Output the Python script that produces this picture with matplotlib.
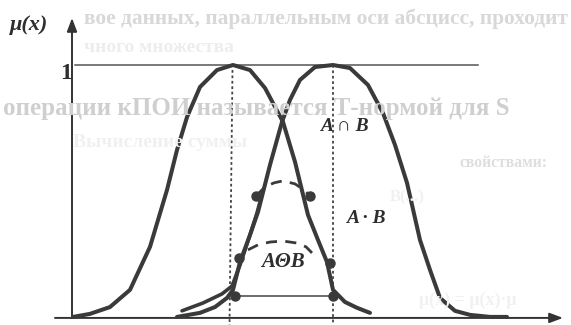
import matplotlib
matplotlib.use('Agg')
import matplotlib.pyplot as plt

SERIF = ['Liberation Serif', 'DejaVu Serif']
INK = '#3a3a3a'

# membership curve A (left bell)
a_x = [0.02, 0.36, 0.76, 1.16, 1.56, 1.90, 2.10, 2.30, 2.56, 2.90, 3.22,
       3.56, 3.86, 4.22, 4.46, 4.72, 4.92, 5.10, 5.22, 5.46, 5.70, 5.96]
a_mu = [0.004, 0.016, 0.043, 0.111, 0.281, 0.506, 0.664, 0.794, 0.913, 0.980, 1.0,
        0.980, 0.909, 0.775, 0.617, 0.407, 0.308, 0.221, 0.111, 0.063, 0.040, 0.020]

# membership curve B (right bell)
b_x = [2.10, 2.56, 2.86, 3.10, 3.22, 3.36, 3.56, 3.72, 3.96, 4.20, 4.36, 4.56, 4.86,
       5.22, 5.56, 5.92, 6.22, 6.46, 6.70, 6.96, 7.16, 7.36, 7.66, 7.96, 8.36, 8.70]
b_mu = [0.004, 0.020, 0.043, 0.079, 0.111, 0.221, 0.328, 0.419, 0.605, 0.775, 0.862, 0.941, 0.992,
        1.0, 0.988, 0.921, 0.810, 0.684, 0.534, 0.308, 0.190, 0.079, 0.028, 0.012, 0.004, 0.004]

# lower branch of the product curve along the left leg
p_x = [2.20, 2.62, 3.00, 3.20, 3.36, 3.54, 3.70, 3.78]
p_mu = [0.028, 0.059, 0.095, 0.126, 0.209, 0.316, 0.415, 0.474]

# dashed arcs: A*B (upper) and A(-)B (lower)
prod_x = [3.68, 3.86, 4.04, 4.22, 4.46, 4.64, 4.76]
prod_mu = [0.482, 0.518, 0.534, 0.542, 0.530, 0.506, 0.482]
diff_x = [3.52, 3.72, 3.96, 4.22, 4.50, 4.68, 4.80]
diff_mu = [0.269, 0.289, 0.300, 0.304, 0.296, 0.281, 0.257]

# marked points on the legs
dot_x = [3.68, 4.76, 3.34, 5.16, 3.26, 5.22]
dot_mu = [0.482, 0.482, 0.237, 0.217, 0.087, 0.087]

# bottom chord and peak positions
chord_x = [3.30, 5.22]
chord_mu = 0.087
peak_a, peak_b = 3.21, 5.22

# text printed on the back of the page: (text, left px, centre px, width px, grey, max size)
ghost_lines = [
    ('вое данных, параллельным оси абсцисс, проходит', 84, 19, 482, '#d8d8d8', 16),
    ('чного множества', 84, 47, 190, '#ededed', 14),
    ('операции кПОИ называется Т-нормой для S', 3, 108, 563, '#cfcfcf', 18),
    ('Вычисление суммы', 73, 143, 270, '#f0f0f0', 14),
    ('свойствами:', 460, 163, 88, '#dedede', 14),
    ('B(...)', 390, 197, 47, '#f0f0f0', 12),
    ('μ(x) = μ(x)·μ', 419, 300, 127, '#f1f1f1', 13),
]

W, H = 571, 325
fig = plt.figure(figsize=(W / 100, H / 100), dpi=100)
ax = fig.add_axes([0, 0, 1, 1])
ax.set_xlim(-1.44, 9.98)
ax.set_ylim(-0.028, 1.257)
ax.axis('off')

renderer = fig.canvas.get_renderer()
for txt, left, mid, width, grey, cap in ghost_lines:
    t = fig.text(left / W, 1 - mid / H, txt, family=SERIF, weight='bold',
                 ha='left', va='center', color=grey, fontsize=12, zorder=0)
    # stretch the font so the line covers its width
    w = t.get_window_extent(renderer).width
    t.set_fontsize(min(12 * width / w, cap))

# axes with arrows
arrow = dict(arrowstyle='-|>,head_length=0.8,head_width=0.3',
             color='#333333', lw=1.4, shrinkA=0, shrinkB=0)
ax.annotate('', xy=(0, 1.186), xytext=(0, 0), arrowprops=arrow, zorder=3)
ax.annotate('', xy=(9.82, 0), xytext=(-0.34, 0), arrowprops=arrow, zorder=3)
ax.plot([0.06, 8.12], [1.0, 1.0], color='#555555', lw=1.1, zorder=2)

# dotted verticals through the peaks
ax.plot([peak_a, peak_a - 0.06], [0.98, -0.03], color='#444444', lw=1.3,
        linestyle=(0, (1.5, 1.5)), zorder=2)
ax.plot([peak_b, peak_b], [1.0, -0.03], color='#444444', lw=1.3,
        linestyle=(0, (1.5, 1.5)), zorder=2)

# fuzzy sets
ax.plot(a_x, a_mu, color=INK, lw=2.9, solid_capstyle='round', zorder=4)
ax.plot(b_x, b_mu, color=INK, lw=2.9, solid_capstyle='round', zorder=4)
ax.plot(p_x, p_mu, color=INK, lw=2.6, solid_capstyle='round', zorder=4)

ax.plot(prod_x, prod_mu, color=INK, lw=2.0, linestyle=(0, (4, 3)), zorder=4)
ax.plot(diff_x, diff_mu, color=INK, lw=2.0, linestyle=(0, (4, 3)), zorder=4)
ax.plot(chord_x, [chord_mu, chord_mu], color='#444444', lw=1.1, zorder=4)
ax.plot(dot_x, dot_mu, 'o', color=INK, markersize=6.5, zorder=5)

# labels
lab = dict(family=SERIF, style='italic', weight='bold', color='#2e2e2e',
           ha='center', va='center', zorder=6)
ax.text(-0.86, 1.158, 'μ(x)', fontsize=16, **lab)
ax.text(-0.12, 0.968, '1', fontsize=17, family=SERIF, weight='bold', color='#2e2e2e',
        ha='center', va='center')
ax.text(5.44, 0.755, 'A ∩ B', fontsize=14, **lab)
ax.text(5.88, 0.395, 'A · B', fontsize=14, **lab)
ax.text(4.22, 0.221, 'AΘB', fontsize=15, **lab)

plt.savefig('out.png', dpi=100)
